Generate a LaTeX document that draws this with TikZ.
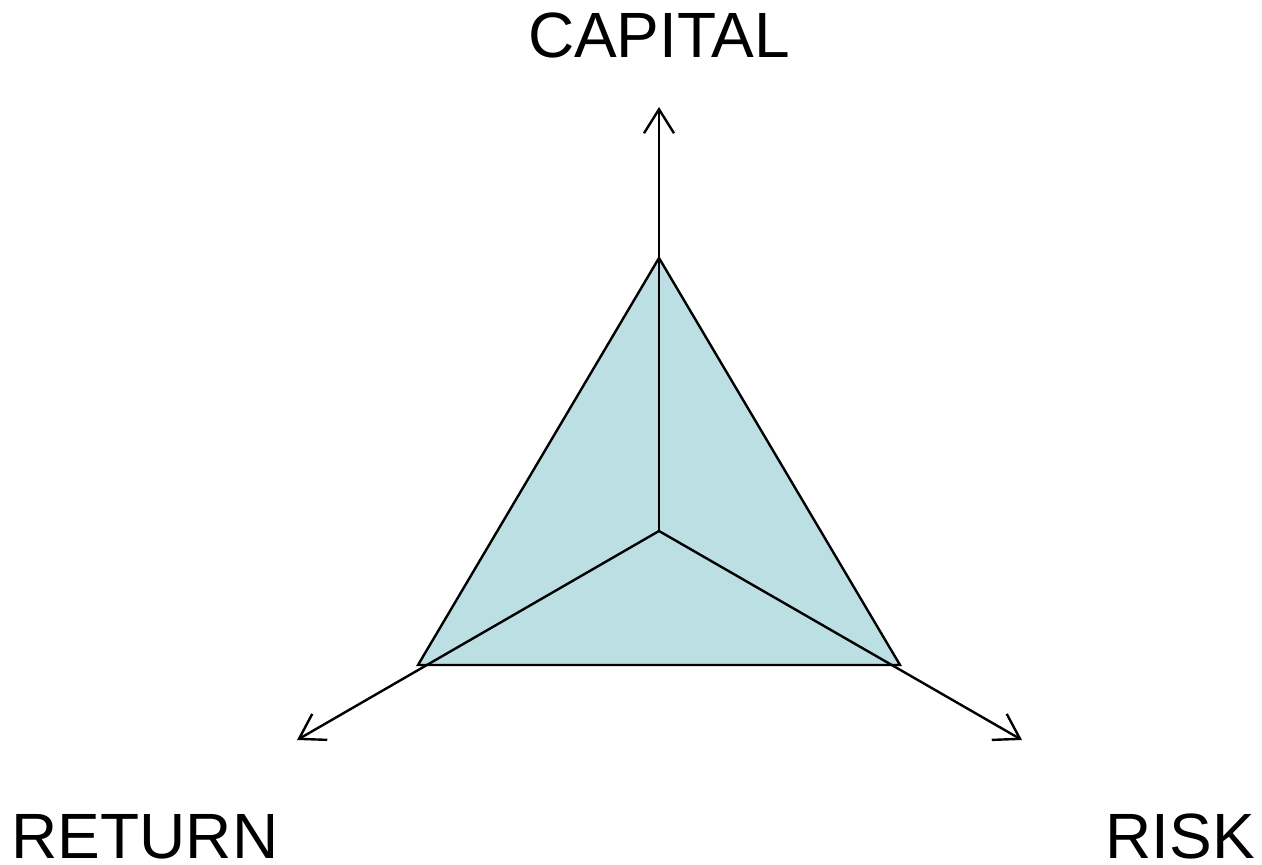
\documentclass[tikz,border=0pt]{standalone}
\usepackage{fontspec}
\setmainfont{Liberation Sans}
\usetikzlibrary{arrows.meta}
\definecolor{tri}{HTML}{BBDFE3}

\begin{document}
\begin{tikzpicture}[
  x=0.5pt, y=-0.5pt,
  edge/.style={draw=black, line width=1.2pt, line join=miter},
  ax/.style={edge, -{Straight Barb[length=12pt, width=15pt, line width=1.2pt]}},
  lbl/.style={font=\fontsize{32}{38}\selectfont, anchor=base, inner sep=0pt}
]
\useasboundingbox (0,0) rectangle (1262,865);
% vertices and axis ends
\coordinate (c) at (659,531);
\coordinate (top) at (659,258);
\coordinate (left) at (418,665);
\coordinate (right) at (900,665);
\coordinate (up) at (659,107);
\coordinate (dl) at (297,740);
\coordinate (dr) at (1022,740);
\filldraw[edge, fill=tri] (top) -- (right) -- (left) -- cycle;
\draw[ax] (c) -- (up);
\draw[ax] (c) -- (dl);
\draw[ax] (c) -- (dr);
\node[lbl] (cap) at (659,58) {CAPITAL};
\node[lbl] (ret) at (145,858) {RETURN};
\node[lbl] (risk) at (1180,858) {RISK};
\end{tikzpicture}
\end{document}
